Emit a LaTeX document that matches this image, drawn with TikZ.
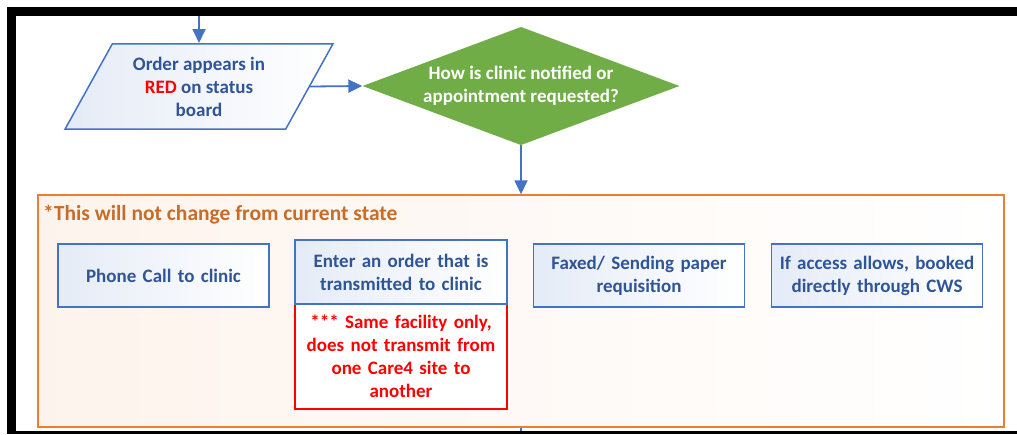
\documentclass[tikz,border=0pt]{standalone}
\usepackage{fontspec}
\setmainfont{Carlito}
\usetikzlibrary{shapes.geometric, arrows.meta, positioning}
\definecolor{boxblue}{RGB}{68,114,196}
\definecolor{txtblue}{RGB}{47,85,151}
\definecolor{askgreen}{RGB}{112,173,71}
\definecolor{noteorange}{RGB}{237,125,49}
\definecolor{titleorange}{RGB}{200,108,40}
\definecolor{alertred}{RGB}{255,0,0}
\tikzset{
    flow/.style={draw=boxblue, line width=1.8pt, -{Triangle[length=14pt,width=13pt]}},
    bodyfont/.style={font=\bfseries\fontsize{19}{23}\selectfont},
    stepbox/.style={draw=boxblue, line width=1.5pt, left color=boxblue!14, right color=white,
        text=txtblue, bodyfont, align=center,
        minimum width=211pt, minimum height=63pt, text width=205pt, inner sep=0pt},
}

\begin{document}
\begin{tikzpicture}[x=1pt, y=-1pt]
    \useasboundingbox (0,0) rectangle (1017,434);
    \fill[white] (-5,-5) rectangle (1022,439);

    % region that stays as it is
    \node[draw=noteorange, line width=1.5pt, left color=noteorange!9, right color=white,
        minimum width=966pt, minimum height=232pt, inner sep=0pt]
        (current) at (521,311) {};
    \node[anchor=base west, inner sep=0pt, text=titleorange, font=\bfseries\fontsize{21.5}{25}\selectfont]
        (title) at (43,220) {*This will not change from current state};

    % top of the flow
    \node[trapezium, trapezium left angle=61, trapezium right angle=119, trapezium stretches body,
        draw=boxblue, line width=1.5pt, left color=boxblue!14, right color=white,
        text=txtblue, bodyfont, align=center, minimum width=268pt, inner xsep=0pt, inner ysep=13pt]
        (order) at (199,86.5) {Order appears in\\{\color{alertred}RED} on status\\board};
    \node[diamond, aspect=2.48, fill=askgreen, minimum width=317pt, inner sep=0pt,
        text=white, bodyfont, align=center]
        (ask) at (521,86) {How is clinic notified or\\appointment requested?};

    % the four ways
    \node[stepbox] (phone) at (163.5,275.5) {Phone Call to clinic};
    \node[draw=alertred, line width=1.5pt, fill=white, text=alertred, bodyfont, align=center,
        minimum width=212pt, minimum height=105pt, text width=205pt, inner sep=0pt]
        (note) at (401,356.5) {*** Same facility only,\\does not transmit from\\one Care4 site to\\another};
    \node[stepbox, minimum width=212pt, minimum height=64pt] (enter) at (401,272)
        {Enter an order that is\\transmitted to clinic};
    \node[stepbox] (fax) at (639,275.5) {Faxed/ Sending paper\\requisition};
    \node[stepbox] (cws) at (877,275.5) {If access allows, booked\\directly through CWS};

    % connectors
    \coordinate (entry) at (199,16);
    \coordinate (exit) at (521,434);
    \draw[flow] (entry) -- (entry |- order.north);
    \draw[flow] (order.east) -- (ask.west);
    \draw[flow] (ask.south) -- (current.north);
    \draw[boxblue, line width=1.8pt] (current.south) -- (exit);

    % black frame
    \fill[black] (7,7) rectangle (1017,16);
    \fill[black] (7,7) rectangle (16,434);
    \fill[black] (7,431) rectangle (1017,434);
\end{tikzpicture}
\end{document}
